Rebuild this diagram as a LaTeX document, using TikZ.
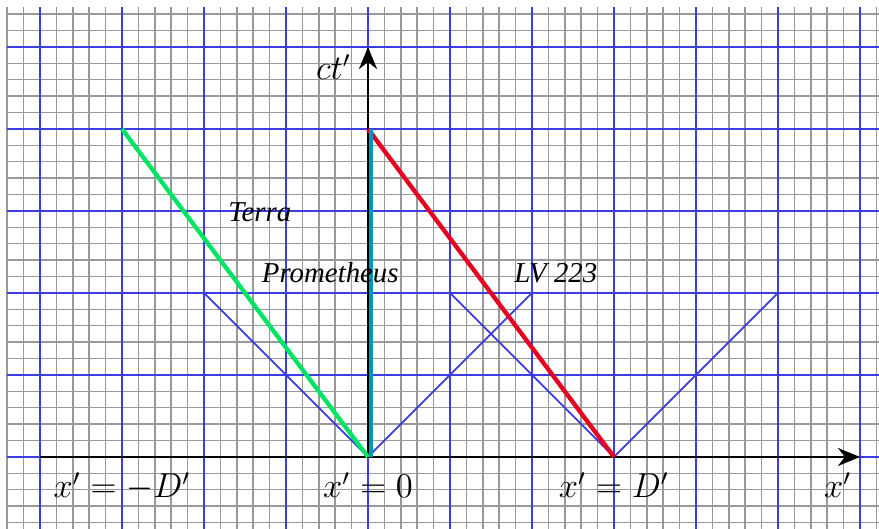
\documentclass[tikz,border=0pt]{standalone}
\usepackage{fontspec}
\newfontfamily\storyfont{Liberation Serif}
\usetikzlibrary{arrows.meta}

\definecolor{gridblue}{RGB}{60,60,225}
\definecolor{terragreen}{RGB}{0,228,100}
\definecolor{promteal}{RGB}{0,150,190}
\definecolor{lvred}{RGB}{232,0,30}

\begin{document}
\begin{tikzpicture}[
  minorgrid/.style={draw=black!40, line width=0.5pt},
  majorgrid/.style={draw=gridblue, line width=0.55pt},
  axis/.style={-{Stealth[length=2.7mm, width=2.2mm]}, line width=1pt, draw=black},
  cone/.style={draw=gridblue, line width=0.6pt},
  worldline/.style={line width=1.5pt},
  shiplabel/.style={font=\storyfont\itshape, inner sep=0pt, anchor=base},
  mathlabel/.style={font=\fontsize{11.5}{13}\selectfont, inner sep=0pt, anchor=base}
]
\useasboundingbox (-4.488,-0.878) rectangle (6.232,5.573);

% graph paper
\draw[minorgrid, step=0.2] (-4.4,-0.9) grid (6.3,5.49);
\draw[majorgrid, step=1] (-4.4,-0.9) grid (6.3,5.49);

\coordinate (O) at (0,0);
\coordinate (D) at (3,0);
\coordinate (xend) at (6,0);
\coordinate (xstart) at (-4,0);
\coordinate (tend) at (0,5);
\coordinate (terraStart) at (-3,4);
\coordinate (lvStart) at (0,4);
\coordinate (coneOL) at (-2,2);
\coordinate (coneOR) at (2,2);
\coordinate (coneDL) at (1,2);
\coordinate (coneDR) at (5,2);

% light cones
\draw[cone] (coneOL) -- (O) -- (coneOR);
\draw[cone] (coneDL) -- (D) -- (coneDR);

% axes
\draw[axis] (xstart) -- (xend);
\draw[axis] (O) -- (tend);

% world lines
\draw[worldline, draw=terragreen] (terraStart) -- (O);
\draw[worldline, draw=lvred] (lvStart) -- (D);
\draw[worldline, draw=promteal] ([xshift=0.035cm]O) -- ([xshift=0.035cm]lvStart);

% labels
\node[shiplabel] (terra) at (-1.32,2.87) {Terra};
\node[shiplabel] (prometheus) at (-0.46,2.13) {Prometheus};
\node[shiplabel] (lv) at (2.29,2.13) {LV 223};

\node[mathlabel] (minusD) at (-3,-0.5) {$x'=-D'$};
\node[mathlabel] (zero) at (0,-0.5) {$x'=0$};
\node[mathlabel] (plusD) at (3,-0.5) {$x'=D'$};
\node[mathlabel] (xlab) at (5.73,-0.5) {$x'$};
\node[mathlabel] (tlab) at (-0.42,4.6) {$ct'$};

\end{tikzpicture}
\end{document}
